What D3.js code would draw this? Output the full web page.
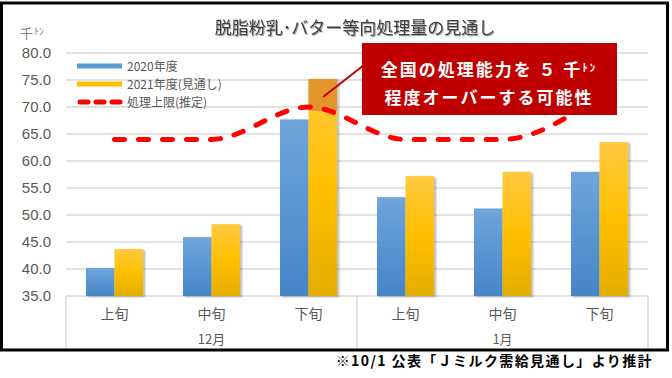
<!DOCTYPE html>
<html>
<head>
<meta charset="utf-8">
<script src="https://cdn.jsdelivr.net/npm/d3@7"></script>
<style>
  body { margin: 0; background: #fff; }
  svg { display: block; }
</style>
</head>
<body>
<div id="chart"></div>
<script>
// data
const periods = ['上旬', '中旬', '下旬', '上旬', '中旬', '下旬'];
const months = [{ name: '12月', from: 0, to: 2 }, { name: '1月', from: 3, to: 5 }];
const v2020 = [40.2, 45.9, 67.7, 53.3, 51.2, 58.0];
const v2021 = [43.7, 48.3, 75.2, 57.2, 58.0, 63.5];
const limit = [64, 64, 70, 64, 64, 72];
const yTicks = [35, 40, 45, 50, 55, 60, 65, 70, 75, 80];
const seriesNames = ['2020年度', '2021年度(見通し)', '処理上限(推定)'];

const W = 672, H = 378;
const jp = '"Noto Sans CJK JP", "Noto Sans", sans-serif';
const num = '"Liberation Sans", Arial, sans-serif';

const svg = d3.select('#chart').append('svg')
    .attr('width', W).attr('height', H);

const defs = svg.append('defs');
const blueGrad = defs.append('linearGradient').attr('id', 'blue').attr('x1', 0).attr('y1', 0).attr('x2', 0).attr('y2', 1);
blueGrad.append('stop').attr('offset', '0%').attr('stop-color', '#70a5dc');
blueGrad.append('stop').attr('offset', '100%').attr('stop-color', '#4585c8');
const orangeGrad = defs.append('linearGradient').attr('id', 'orange').attr('x1', 0).attr('y1', 0).attr('x2', 0).attr('y2', 1);
orangeGrad.append('stop').attr('offset', '0%').attr('stop-color', '#ffc940');
orangeGrad.append('stop').attr('offset', '50%').attr('stop-color', '#ffc000');
orangeGrad.append('stop').attr('offset', '100%').attr('stop-color', '#e3ad00');
defs.append('filter').attr('id', 'shadow').attr('x', '-20%').attr('y', '-20%').attr('width', '150%').attr('height', '140%')
    .append('feDropShadow').attr('dx', 2).attr('dy', 1).attr('stdDeviation', 1.2)
    .attr('flood-color', '#000').attr('flood-opacity', 0.3);
defs.append('filter').attr('id', 'tshadow')
    .append('feDropShadow').attr('dx', 1).attr('dy', 1).attr('stdDeviation', 0.6)
    .attr('flood-color', '#000').attr('flood-opacity', 0.35);

const plotL = 66, plotR = 648, plotT = 53, plotB = 296;

const y = d3.scaleLinear().domain([35, 80]).range([plotB, plotT]);
const x0 = d3.scaleBand().domain(d3.range(periods.length)).range([plotL, plotR])
    .paddingInner(0.412).paddingOuter(0.206);
const x1 = d3.scaleBand().domain([0, 1]).range([0, x0.bandwidth()]);
const step = x0.step();

// gridlines
svg.append('g').selectAll('line')
    .data(yTicks.filter(d => d > 35))
    .join('line')
    .attr('x1', plotL).attr('x2', plotR)
    .attr('y1', d => y(d)).attr('y2', d => y(d))
    .attr('stroke', '#d9d9d9').attr('stroke-width', 1.5);

// y axis labels
const yAxis = svg.append('g')
    .attr('transform', `translate(${plotL},0)`)
    .call(d3.axisLeft(y).tickValues(yTicks).tickFormat(d3.format('.1f')).tickSize(0).tickPadding(15));
yAxis.select('.domain').remove();
yAxis.selectAll('text')
    .attr('font-family', num).attr('font-size', 15).attr('fill', '#595959');

// unit
svg.append('text').attr('x', 20).attr('y', 38)
    .attr('font-family', jp).attr('font-size', 13).attr('fill', '#7f7f7f')
    .text('千')
    .append('tspan').attr('font-size', 10).attr('dy', -3).attr('dx', 1).text('ﾄﾝ');

// category box
const cat = svg.append('g').attr('stroke', '#d9d9d9').attr('stroke-width', 1.5);
cat.append('line').attr('x1', plotL).attr('x2', plotR).attr('y1', plotB).attr('y2', plotB);
[plotL, plotL + step * 3, plotR].forEach(xv => {
    cat.append('line').attr('x1', xv).attr('x2', xv).attr('y1', plotB).attr('y2', 350);
});

svg.append('g').selectAll('text')
    .data(periods)
    .join('text')
    .attr('x', (d, i) => x0(i) + x0.bandwidth() / 2)
    .attr('y', 319)
    .attr('text-anchor', 'middle')
    .attr('font-family', jp).attr('font-size', 14).attr('fill', '#595959')
    .text(d => d);

svg.append('g').selectAll('text')
    .data(months)
    .join('text')
    .attr('x', d => (x0(d.from) + x0(d.to) + x0.bandwidth()) / 2)
    .attr('y', 344)
    .attr('text-anchor', 'middle')
    .attr('font-family', jp).attr('font-size', 13).attr('fill', '#595959')
    .text(d => d.name);

// bars
const bars = svg.append('g').attr('filter', 'url(#shadow)');
bars.selectAll('rect.b20')
    .data(v2020)
    .join('rect')
    .attr('class', 'b20')
    .attr('x', (d, i) => x0(i) + x1(0))
    .attr('y', d => y(d))
    .attr('width', x1.bandwidth())
    .attr('height', d => plotB - y(d))
    .attr('fill', 'url(#blue)');
bars.selectAll('rect.b21')
    .data(v2021)
    .join('rect')
    .attr('class', 'b21')
    .attr('x', (d, i) => x0(i) + x1(1))
    .attr('y', d => y(d))
    .attr('width', x1.bandwidth())
    .attr('height', d => plotB - y(d))
    .attr('fill', 'url(#orange)');

// the part of the 2021 bar that goes over the limit
const over = v2021.map((d, i) => ({ i, hi: d, base: limit[i] - 0.7 })).filter(d => d.hi > limit[d.i]);
svg.append('g').selectAll('rect')
    .data(over)
    .join('rect')
    .attr('x', d => x0(d.i) + x1(1))
    .attr('y', d => y(d.hi))
    .attr('width', x1.bandwidth())
    .attr('height', d => y(d.base) - y(d.hi))
    .attr('fill', '#e2952a');

// limit line
const line = d3.line()
    .x((d, i) => x0(i) + x0.bandwidth() / 2)
    .y(d => y(d))
    .curve(d3.curveMonotoneX);
svg.append('path')
    .datum(limit)
    .attr('d', line)
    .attr('fill', 'none')
    .attr('stroke', '#ff0000')
    .attr('stroke-width', 5)
    .attr('stroke-linecap', 'round')
    .attr('stroke-dasharray', '10,14');

// legend
const legend = svg.append('g').attr('transform', 'translate(77,66)');
seriesNames.forEach((name, i) => {
    const g = legend.append('g').attr('transform', `translate(0,${i * 18})`);
    if (i < 2) {
        g.append('rect').attr('x', 0).attr('y', -2.5).attr('width', 45).attr('height', 5)
            .attr('fill', i === 0 ? '#5b9bd5' : '#ffc000');
    } else {
        g.append('line').attr('x1', 3).attr('x2', 45).attr('y1', 0).attr('y2', 0)
            .attr('stroke', '#ff0000').attr('stroke-width', 5)
            .attr('stroke-linecap', 'round').attr('stroke-dasharray', '8,8');
    }
    g.append('text').attr('x', 50).attr('y', 4.5)
        .attr('font-family', jp).attr('font-size', 12).attr('fill', '#595959')
        .text(name);
});

// title
svg.append('text')
    .attr('x', 355).attr('y', 34)
    .attr('text-anchor', 'middle')
    .attr('font-family', jp).attr('font-size', 17).attr('fill', '#404040')
    .attr('filter', 'url(#tshadow)')
    .text('脱脂粉乳･バター等向処理量の見通し');

// callout
svg.append('line')
    .attr('x1', 323).attr('y1', 97).attr('x2', 364).attr('y2', 65)
    .attr('stroke', '#c00000').attr('stroke-width', 2);
svg.append('rect')
    .attr('x', 362).attr('y', 43).attr('width', 255).attr('height', 72)
    .attr('fill', '#c00000');
const call1 = svg.append('text')
    .attr('x', 489).attr('y', 76)
    .attr('text-anchor', 'middle')
    .attr('font-family', jp).attr('font-size', 17).attr('font-weight', 'bold')
    .attr('fill', '#fff').attr('letter-spacing', 2);
call1.append('tspan').text('全国の処理能力を ５ 千');
call1.append('tspan').attr('font-size', 11).attr('dy', -4).text('ﾄﾝ');
svg.append('text')
    .attr('x', 489).attr('y', 104)
    .attr('text-anchor', 'middle')
    .attr('font-family', jp).attr('font-size', 17).attr('font-weight', 'bold')
    .attr('fill', '#fff').attr('letter-spacing', 2)
    .text('程度オーバーする可能性');

// frame
svg.append('rect')
    .attr('x', 1.5).attr('y', 3).attr('width', 666).attr('height', 347)
    .attr('fill', 'none').attr('stroke', '#000').attr('stroke-width', 3);

// source note
svg.append('text')
    .attr('x', 653).attr('y', 366)
    .attr('text-anchor', 'end')
    .attr('font-family', jp).attr('font-size', 14).attr('font-weight', 'bold')
    .attr('fill', '#000').attr('letter-spacing', 1.4)
    .text('※10/1 公表「Ｊミルク需給見通し」より推計');
</script>
</body>
</html>
